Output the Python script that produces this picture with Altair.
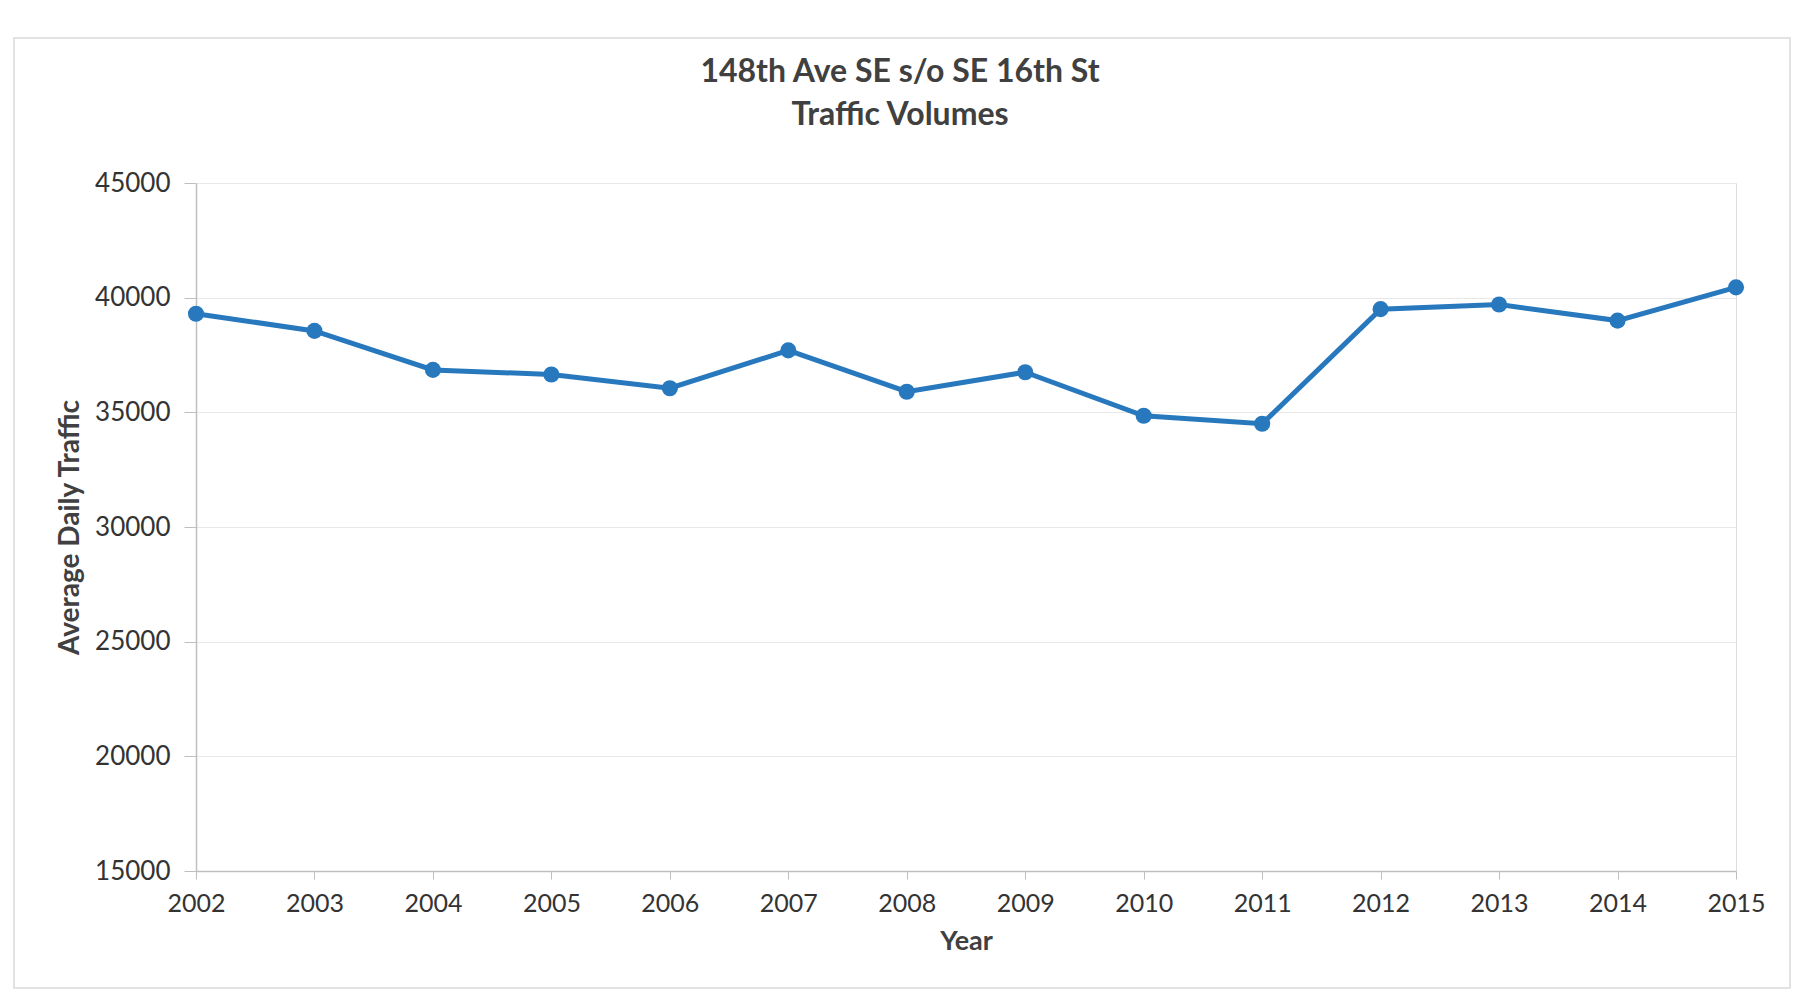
import altair as alt
import pandas as pd

years = ["2002", "2003", "2004", "2005", "2006", "2007", "2008",
         "2009", "2010", "2011", "2012", "2013", "2014", "2015"]
adt = [39300, 38550, 36850, 36650, 36050, 37700, 35900,
       36750, 34850, 34500, 39500, 39700, 39000, 40450]
y_ticks = [15000, 20000, 25000, 30000, 35000, 40000, 45000]

df = pd.DataFrame({"Year": years, "ADT": adt})

FONT = "Lato"
BLUE = "#2878BE"
GREY_TXT = "#404040"

x_enc = alt.X("Year:O", title="Year",
              scale=alt.Scale(type="point", padding=0),
              axis=alt.Axis(labelAngle=0, labelFontSize=25, labelFont=FONT, labelColor="#333333",
                            titleFontSize=27, titleFont=FONT, titleColor=GREY_TXT, titleFontWeight="bold",
                            tickSize=8, labelPadding=12, titlePadding=12,
                            domainColor="#bfbfbf", tickColor="#bfbfbf", domainWidth=1.5, grid=False))
y_enc = alt.Y("ADT:Q", title="Average Daily Traffic",
              scale=alt.Scale(domain=[15000, 45000], nice=False, zero=False),
              axis=alt.Axis(values=y_ticks, format="d", labelFontSize=26, labelFont=FONT, labelColor="#333333",
                            titleFontSize=28, titleFont=FONT, titleColor=GREY_TXT, titleFontWeight="bold",
                            tickSize=12, labelPadding=14, titlePadding=10,
                            domainColor="#bfbfbf", tickColor="#bfbfbf", domainWidth=1.5,
                            gridColor="#e8e8e8", gridWidth=1.2))

line = alt.Chart(df).mark_line(color=BLUE, strokeWidth=5).encode(x=x_enc, y=y_enc)
pts = alt.Chart(df).mark_point(color=BLUE, filled=True, opacity=1, size=260).encode(x=x_enc, y=y_enc)

frame = alt.Chart(df).mark_rect(filled=False, stroke="#e2e2e2", strokeWidth=2, clip=False).encode(
    x=alt.value(-182), x2=alt.value(1594), y=alt.value(-145), y2=alt.value(805))

chart = alt.layer(frame, line, pts).properties(
    width=1540, height=688,
    autosize=alt.AutoSizeParams(type="none"),
    padding={"left": 188, "top": 175, "right": 60, "bottom": 118},
    title=alt.TitleParams(
        text=["148th Ave SE s/o SE 16th St", "Traffic Volumes"],
        font=FONT, fontSize=32, fontWeight="bold", color=GREY_TXT,
        anchor="middle", dx=-66, offset=-95, lineHeight=43),
).configure_view(stroke=None).configure(background="white")

chart.save("out.html", embed_options={"renderer": "svg", "actions": False})
